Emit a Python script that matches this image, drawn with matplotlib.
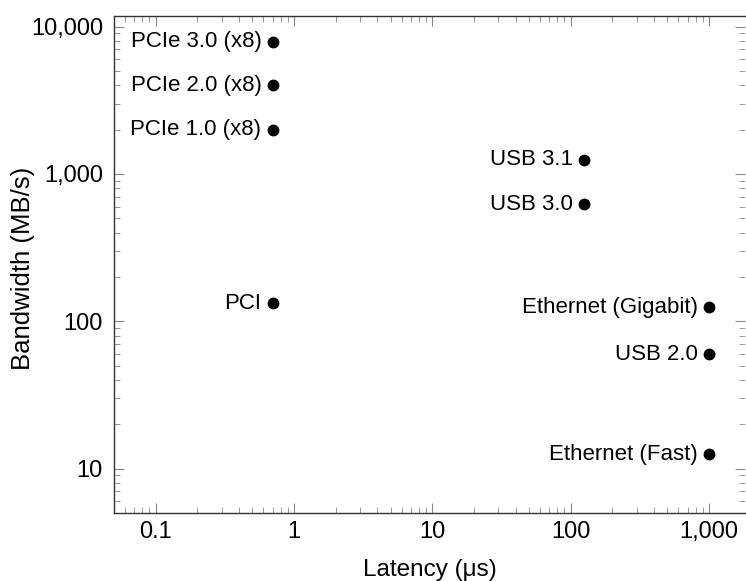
import matplotlib
matplotlib.use("Agg")
from matplotlib import pyplot as plt
from matplotlib.ticker import FuncFormatter, LogLocator, NullFormatter

# bus / link types: latency (us) vs bandwidth (MB/s)
names = [
    "PCIe 3.0 (x8)",
    "PCIe 2.0 (x8)",
    "PCIe 1.0 (x8)",
    "PCI",
    "USB 3.1",
    "USB 3.0",
    "Ethernet (Gigabit)",
    "USB 2.0",
    "Ethernet (Fast)",
]
latency = [0.7, 0.7, 0.7, 0.7, 125, 125, 1000, 1000, 1000]
bandwidth = [7880, 4000, 2000, 133, 1250, 625, 125, 60, 12.5]

plt.rcParams["font.family"] = ["Liberation Sans", "DejaVu Sans"]

fig = plt.figure(figsize=(7.46, 5.81), dpi=100)
ax = fig.add_axes([0.1528, 0.117, 0.8458, 0.8554])

ax.plot(latency, bandwidth, "o", color="black", markersize=7.5, zorder=3)
for name, x, y in zip(names, latency, bandwidth):
    ax.annotate(name, xy=(x, y), xytext=(-8, 0), textcoords="offset points",
                ha="right", va="center", fontsize=16)

ax.set_xscale("log")
ax.set_yscale("log")
ax.set_xlim(0.05, 1820)
ax.set_ylim(5.0, 11800)

fmt = FuncFormatter(lambda v, p: f"{v:,.0f}" if v >= 1 else f"{v:g}")
ax.xaxis.set_major_locator(LogLocator(base=10))
ax.yaxis.set_major_locator(LogLocator(base=10))
ax.xaxis.set_major_formatter(fmt)
ax.yaxis.set_major_formatter(fmt)
ax.xaxis.set_minor_formatter(NullFormatter())
ax.yaxis.set_minor_formatter(NullFormatter())

ax.tick_params(which="both", direction="in", top=True, right=True,
               color="#888888", labelsize=17)
ax.tick_params(axis="x", pad=6)
ax.tick_params(axis="y", pad=8)
ax.tick_params(which="major", length=7, width=0.8)
ax.tick_params(which="minor", length=4, width=0.6)

for side in ["left", "bottom", "top"]:
    ax.spines[side].set_color("#333333")
    ax.spines[side].set_linewidth(1.0)
ax.spines["right"].set_visible(False)

ax.set_xlabel("Latency (μs)", fontsize=17.5, labelpad=11)
ax.set_ylabel("Bandwidth (MB/s)", fontsize=18.5)
ax.yaxis.set_label_coords(-0.125, 0.493)

fig.savefig("out.png", dpi=100)
